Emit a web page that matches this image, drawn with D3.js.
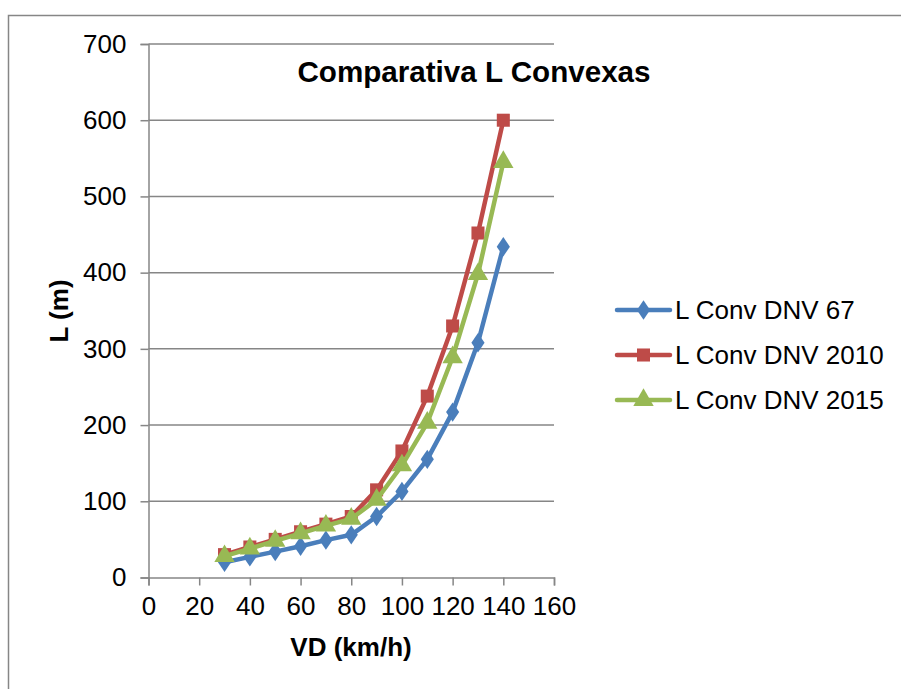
<!DOCTYPE html>
<html>
<head>
<meta charset="utf-8">
<script src="https://cdn.jsdelivr.net/npm/d3@7/dist/d3.min.js"></script>
<style>
  body { margin: 0; background: #fff; }
  text { font-family: "Liberation Sans", Arial, sans-serif; fill: #000; }
</style>
</head>
<body>
<div id="chart"></div>
<script>
// Data
const speeds = [30, 40, 50, 60, 70, 80, 90, 100, 110, 120, 130, 140];
const dnv67 = [20, 27, 34, 41, 49, 56, 80, 113, 155, 217, 308, 434];
const dnv2010 = [30, 40, 50, 60, 70, 80, 115, 166, 238, 330, 452, 600];
const dnv2015 = [28, 38, 48, 58, 68, 77, 102, 147, 203, 289, 398, 545];
const seriesNames = ["L Conv DNV 67", "L Conv DNV 2010", "L Conv DNV 2015"];
const xTicks = [0, 20, 40, 60, 80, 100, 120, 140, 160];
const yTicks = [0, 100, 200, 300, 400, 500, 600, 700];

const width = 901, height = 689;
const gray = "#868686";
const colors = ["#4A7EBB", "#BE4B48", "#98B954"];
const shapes = [d3.symbolDiamond, d3.symbolSquare, d3.symbolTriangle];
const symSizes = [150, 170, 180];

const svg = d3.select("#chart").append("svg")
    .attr("width", width).attr("height", height);

// Outer border
svg.append("rect")
    .attr("x", 8.5).attr("y", 15.5)
    .attr("width", 1000).attr("height", 1000)
    .attr("fill", "none").attr("stroke", gray).attr("stroke-width", 1.5);

const x = d3.scaleLinear().domain([0, 160]).range([148.5, 554]);
const y = d3.scaleLinear().domain([0, 700]).range([577.5, 44]);

// Gridlines
svg.append("g").selectAll("line")
    .data(yTicks.slice(1))
    .join("line")
    .attr("x1", x(0)).attr("x2", x(160))
    .attr("y1", d => y(d)).attr("y2", d => y(d))
    .attr("stroke", gray).attr("stroke-width", 1.5);

// Y axis
const yAxis = svg.append("g")
    .attr("transform", `translate(${x(0)},0)`)
    .call(d3.axisLeft(y).tickValues(yTicks).tickSize(8).tickPadding(14));
yAxis.select(".domain").attr("stroke", gray).attr("stroke-width", 1.5);
yAxis.selectAll(".tick line").attr("stroke", gray).attr("stroke-width", 1.5);
yAxis.selectAll(".tick text")
    .style("font-family", "Liberation Sans, Arial, sans-serif")
    .style("font-size", "26px").attr("fill", "#000");

// X axis
const xAxis = svg.append("g")
    .attr("transform", `translate(0,${y(0)})`)
    .call(d3.axisBottom(x).tickValues(xTicks).tickSize(8).tickPadding(11));
xAxis.select(".domain").attr("stroke", gray).attr("stroke-width", 1.5);
xAxis.selectAll(".tick line").attr("stroke", gray).attr("stroke-width", 1.5);
xAxis.selectAll(".tick text")
    .style("font-family", "Liberation Sans, Arial, sans-serif")
    .style("font-size", "26px").attr("fill", "#000");

// Series
const allSeries = [dnv67, dnv2010, dnv2015];
const line = d3.line()
    .x((d, i) => x(speeds[i]))
    .y(d => y(d));

allSeries.forEach((vals, s) => {
    const g = svg.append("g");
    g.append("path")
        .datum(vals)
        .attr("d", line)
        .attr("fill", "none")
        .attr("stroke", colors[s])
        .attr("stroke-width", 4.5)
        .attr("stroke-linejoin", "round")
        .attr("stroke-linecap", "round");
    g.selectAll("path.mk")
        .data(vals)
        .join("path")
        .attr("class", "mk")
        .attr("transform", (d, i) => `translate(${x(speeds[i])},${y(d)})` + (s === 0 ? " scale(1,0.85)" : ""))
        .attr("d", d3.symbol().type(shapes[s]).size(symSizes[s]))
        .attr("fill", colors[s]);
});

// Title
svg.append("text")
    .attr("x", 474).attr("y", 82)
    .attr("text-anchor", "middle")
    .style("font-size", "29.6px").style("font-weight", "bold")
    .text("Comparativa L Convexas");

// Axis titles
svg.append("text")
    .attr("x", 351).attr("y", 656)
    .attr("text-anchor", "middle")
    .style("font-size", "26px").style("font-weight", "bold")
    .text("VD (km/h)");

svg.append("text")
    .attr("transform", "translate(68,311) rotate(-90)")
    .attr("text-anchor", "middle")
    .style("font-size", "26px").style("font-weight", "bold")
    .text("L (m)");

// Legend
const legendY = [310, 355, 400];
const legend = svg.append("g");
seriesNames.forEach((name, s) => {
    const ly = legendY[s];
    legend.append("line")
        .attr("x1", 617).attr("x2", 670)
        .attr("y1", ly).attr("y2", ly)
        .attr("stroke", colors[s]).attr("stroke-width", 4.5)
        .attr("stroke-linecap", "round");
    legend.append("path")
        .attr("transform", `translate(643.5,${ly})` + (s === 0 ? " scale(1,0.85)" : ""))
        .attr("d", d3.symbol().type(shapes[s]).size(symSizes[s]))
        .attr("fill", colors[s]);
    legend.append("text")
        .attr("x", 675).attr("y", ly + 9)
        .style("font-size", "26px")
        .text(name);
});
</script>
</body>
</html>
